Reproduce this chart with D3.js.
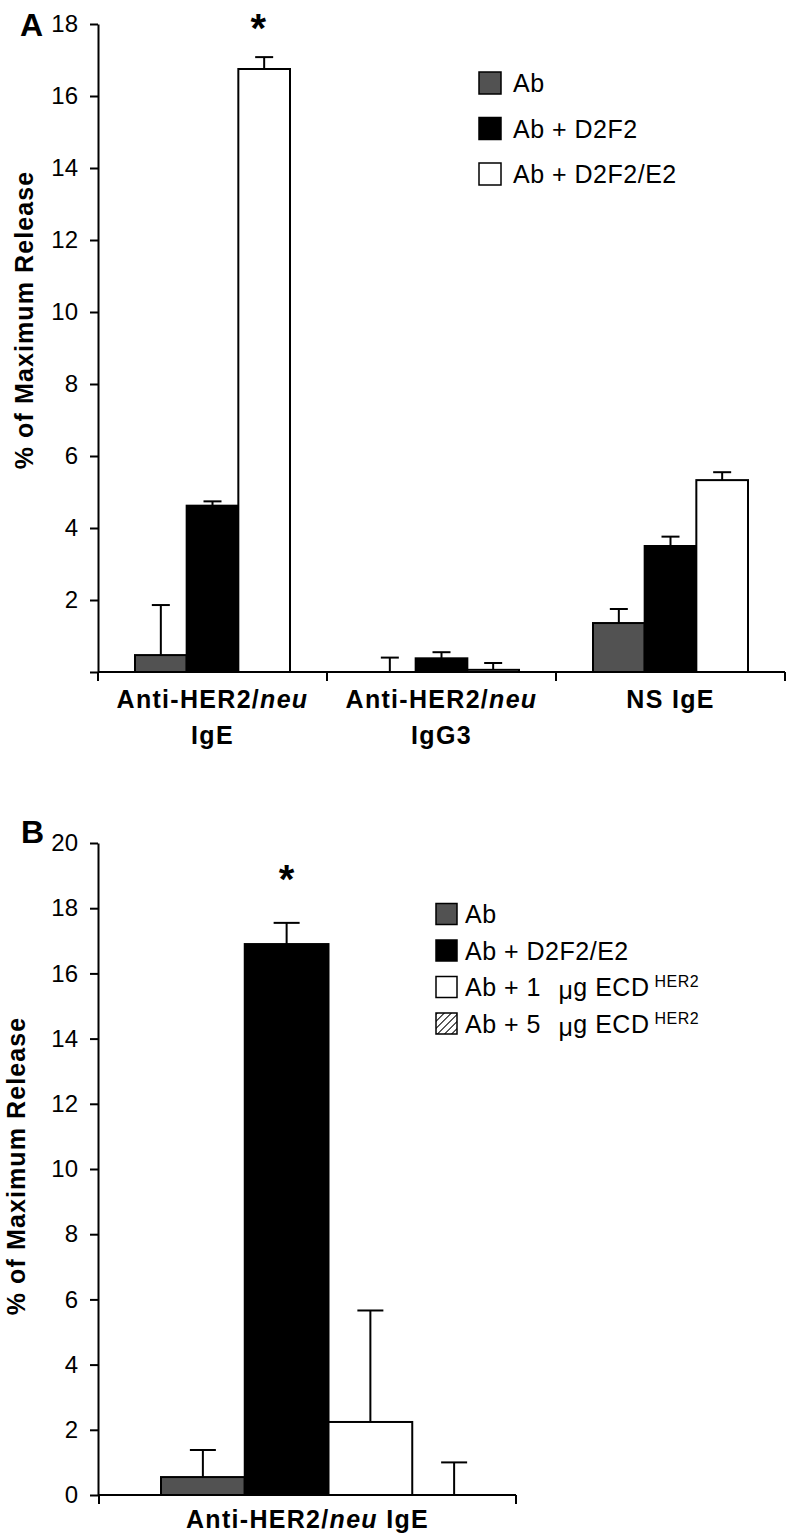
<!DOCTYPE html>
<html>
<head>
<meta charset="utf-8">
<script src="https://cdnjs.cloudflare.com/ajax/libs/d3/7.8.5/d3.min.js"></script>
<style>
  body { margin: 0; background: #fff; }
  svg { display: block; font-family: "Liberation Sans", Arial, Helvetica, sans-serif; }
  .axis path, .axis line { stroke: #000; stroke-width: 2px; }
  .axis text { font-size: 24px; fill: #000; font-family: "Liberation Sans", Arial, sans-serif; }
  .cat-label { font-size: 25px; font-weight: bold; letter-spacing: 1.3px; }
  .y-label { font-size: 25px; font-weight: bold; letter-spacing: 1.1px; }
  .legend text { font-size: 25px; letter-spacing: 0.5px; }
  .panel-letter { font-size: 32px; font-weight: bold; }
  .star { font-size: 40px; font-weight: bold; }
</style>
</head>
<body>
<div id="chart"></div>
<script>

//Panel A data
var groupsA = ["Anti-HER2/neu IgE", "Anti-HER2/neu IgG3", "NS IgE"];
var groupLinesA = [["Anti-HER2/neu", "IgE"], ["Anti-HER2/neu", "IgG3"], ["NS IgE"]];
var seriesA = ["Ab", "Ab + D2F2", "Ab + D2F2/E2"];
var abA = [0.47, 0, 1.36];
var abD2F2A = [4.62, 0.38, 3.5];
var abE2A = [16.75, 0.06, 5.33];
var abErrA = [1.39, 0.4, 0.39];
var abD2F2ErrA = [0.12, 0.17, 0.26];
var abE2ErrA = [0.33, 0.19, 0.22];
var ticksA = [0, 2, 4, 6, 8, 10, 12, 14, 16, 18];

//Panel B data
var groupsB = ["Anti-HER2/neu IgE"];
var seriesB = ["Ab", "Ab + D2F2/E2", "Ab + 1 μg ECD HER2", "Ab + 5 μg ECD HER2"];
var valuesB = [0.55, 16.9, 2.24, 0];
var errorsB = [0.83, 0.65, 3.42, 1.0];
var ticksB = [0, 2, 4, 6, 8, 10, 12, 14, 16, 18, 20];

var fillsA = ["#525252", "#000000", "#ffffff"];
var fillsB = ["#525252", "#000000", "#ffffff", "url(#hatch)"];

var svg = d3.select("#chart").append("svg")
    .attr("width", 786)
    .attr("height", 1537);

//Hatch pattern for the 5 ug bar
var pattern = svg.append("defs").append("pattern")
    .attr("id", "hatch")
    .attr("patternUnits", "userSpaceOnUse")
    .attr("width", 5)
    .attr("height", 5)
    .attr("patternTransform", "rotate(45)");
pattern.append("rect").attr("width", 5).attr("height", 5).attr("fill", "#fff");
pattern.append("line").attr("x1", 0).attr("y1", 0).attr("x2", 0).attr("y2", 5)
    .attr("stroke", "#000").attr("stroke-width", 2);

//Write a category label, italicising "neu"
function writeLabel(textSel, str) {
  var parts = str.split("neu");
  textSel.append("tspan").text(parts[0]);
  if (parts.length > 1) {
    textSel.append("tspan").attr("font-style", "italic").text("neu");
    textSel.append("tspan").text(parts[1]);
  }
}

//Draws bars + error bars for one group
function drawBars(g, x0, x1, y, group, series, vals, errs, fills, capHalf) {
  series.forEach(function(s, si) {
    var v = vals[si], e = errs[si];
    var bx = x0(group) + x1(s);
    var cx = bx + x1.bandwidth() / 2;
    if (v > 0) {
      g.append("rect")
        .attr("x", bx)
        .attr("y", y(v))
        .attr("width", x1.bandwidth())
        .attr("height", y(0) - y(v))
        .attr("fill", fills[si])
        .attr("stroke", "#000")
        .attr("stroke-width", 2);
    }
    g.append("line")
      .attr("x1", cx).attr("x2", cx)
      .attr("y1", y(v)).attr("y2", y(v + e))
      .attr("stroke", "#000").attr("stroke-width", 2);
    g.append("line")
      .attr("x1", cx - capHalf).attr("x2", cx + capHalf)
      .attr("y1", y(v + e)).attr("y2", y(v + e))
      .attr("stroke", "#000").attr("stroke-width", 2);
  });
}

//Draws x axis line with ticks at group boundaries
function drawXAxis(g, x0, y) {
  var edges = x0.domain().map(function(d) { return x0(d); });
  edges.push(x0.range()[1]);
  var ax = g.append("g").attr("class", "axis");
  ax.append("path")
    .attr("d", "M" + x0.range()[0] + "," + y(0) + "H" + x0.range()[1])
    .attr("fill", "none");
  ax.selectAll("line.xt").data(edges).enter().append("line")
    .attr("class", "xt")
    .attr("x1", function(d) { return d; }).attr("x2", function(d) { return d; })
    .attr("y1", y(0)).attr("y2", y(0) + 9);
}

/////////////////// PANEL A ///////////////////
var yA = d3.scaleLinear().domain([0, 18]).range([672, 24]);
var x0A = d3.scaleBand().domain(groupsA).range([98, 785]);
var x1A = d3.scaleBand().domain(seriesA).range([37, x0A.bandwidth() - 37]);

var gA = svg.append("g");

gA.append("g")
    .attr("class", "axis")
    .attr("transform", "translate(98,0)")
    .call(d3.axisLeft(yA).tickValues(ticksA).tickSize(8).tickSizeOuter(0).tickPadding(12)
      .tickFormat(function(d) { return d === 0 ? "" : d; }));

drawXAxis(gA, x0A, yA);

groupsA.forEach(function(grp, gi) {
  drawBars(gA, x0A, x1A, yA, grp, seriesA,
    [abA[gi], abD2F2A[gi], abE2A[gi]],
    [abErrA[gi], abD2F2ErrA[gi], abE2ErrA[gi]],
    fillsA, 9);

  //Category label (1 or 2 lines)
  groupLinesA[gi].forEach(function(line, li) {
    var t = gA.append("text")
      .attr("class", "cat-label")
      .attr("text-anchor", "middle")
      .attr("x", x0A(grp) + x0A.bandwidth() / 2)
      .attr("y", 708 + li * 36);
    writeLabel(t, line);
  });
});

//Significance star over Ab + D2F2/E2
gA.append("text")
    .attr("class", "star")
    .attr("text-anchor", "middle")
    .attr("x", x0A(groupsA[0]) + x1A(seriesA[2]) + x1A.bandwidth() / 2 - 6)
    .attr("y", yA(abE2A[0] + abE2ErrA[0]) - 15)
    .text("*");

gA.append("text").attr("class", "panel-letter").attr("x", 20).attr("y", 36).text("A");

gA.append("text")
    .attr("class", "y-label")
    .attr("text-anchor", "middle")
    .attr("transform", "translate(33,320) rotate(-90)")
    .text("% of Maximum Release");

//Legend A
var legA = gA.append("g").attr("class", "legend");
seriesA.forEach(function(s, i) {
  var cy = 83 + i * 45.5;
  legA.append("rect")
    .attr("x", 479).attr("y", cy - 11).attr("width", 22).attr("height", 22)
    .attr("fill", fillsA[i]).attr("stroke", "#000").attr("stroke-width", 1.5);
  legA.append("text").attr("x", 513).attr("y", cy + 9).text(s);
});

/////////////////// PANEL B ///////////////////
var yB = d3.scaleLinear().domain([0, 20]).range([1495, 843]);
var x0B = d3.scaleBand().domain(groupsB).range([99, 516]);
var x1B = d3.scaleBand().domain(seriesB).range([62, x0B.bandwidth() - 20]);

var gB = svg.append("g");

gB.append("g")
    .attr("class", "axis")
    .attr("transform", "translate(98,0)")
    .call(d3.axisLeft(yB).tickValues(ticksB).tickSize(8).tickSizeOuter(0).tickPadding(12));

drawXAxis(gB, x0B, yB);

drawBars(gB, x0B, x1B, yB, groupsB[0], seriesB, valuesB, errorsB, fillsB, 13);

var tB = gB.append("text")
    .attr("class", "cat-label")
    .attr("text-anchor", "middle")
    .attr("x", x0B(groupsB[0]) + x0B.bandwidth() / 2)
    .attr("y", 1528);
writeLabel(tB, groupsB[0]);

gB.append("text")
    .attr("class", "star")
    .attr("text-anchor", "middle")
    .attr("x", x0B(groupsB[0]) + x1B(seriesB[1]) + x1B.bandwidth() / 2)
    .attr("y", yB(valuesB[1] + errorsB[1]) - 30)
    .text("*");

gB.append("text").attr("class", "panel-letter").attr("x", 21).attr("y", 843).text("B");

gB.append("text")
    .attr("class", "y-label")
    .attr("text-anchor", "middle")
    .attr("transform", "translate(25,1166) rotate(-90)")
    .text("% of Maximum Release");

//Legend B (with μ and superscript HER2)
var legB = gB.append("g").attr("class", "legend");
seriesB.forEach(function(s, i) {
  var cy = 914 + i * 36.5;
  legB.append("rect")
    .attr("x", 436).attr("y", cy - 10.5).attr("width", 21).attr("height", 21)
    .attr("fill", fillsB[i]).attr("stroke", "#000").attr("stroke-width", 1.5);
  var t = legB.append("text").attr("x", 465).attr("y", cy + 9);
  if (s.indexOf("μ") < 0) {
    t.text(s);
  } else {
    var sup = s.slice(s.lastIndexOf(" ") + 1);
    var main = s.slice(0, s.lastIndexOf(" "));
    var p = main.split("μ");
    t.append("tspan").text(p[0]);
    t.append("tspan").attr("dx", 10).attr("dy", 3).text("μ");
    t.append("tspan").attr("dy", -3).text(p[1]);
    t.append("tspan").attr("dx", 5).attr("dy", -9).style("font-size", "16px").text(sup);
  }
});

</script>
</body>
</html>
